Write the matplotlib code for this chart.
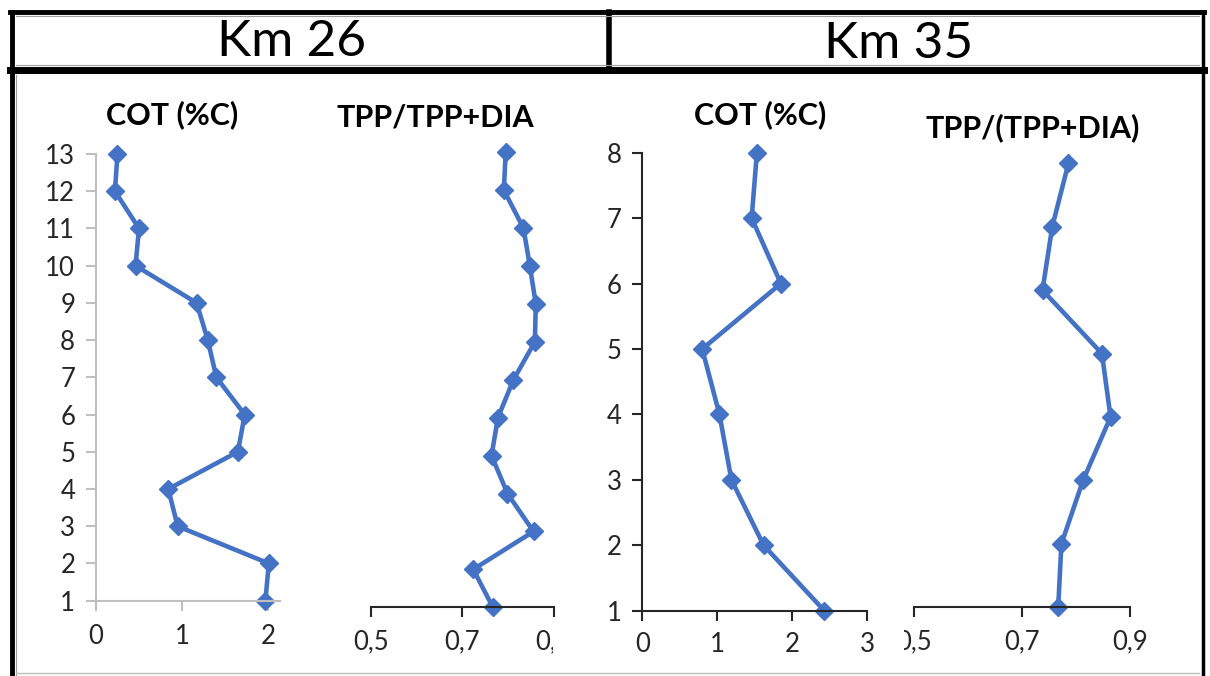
import matplotlib.pyplot as plt
from matplotlib.lines import Line2D
from matplotlib.transforms import Bbox, TransformedBbox

plt.rcParams['font.family'] = ['Lato', 'DejaVu Sans']

# Km 26 profile (level 13 at top down to 1)
depth26 = [13, 12, 11, 10, 9, 8, 7, 6, 5, 4, 3, 2, 1]
cot26 = [0.25, 0.22, 0.50, 0.46, 1.17, 1.30, 1.40, 1.73, 1.65, 0.84, 0.95, 2.01, 1.97]
tpp26 = [0.795, 0.791, 0.834, 0.848, 0.861, 0.859, 0.812, 0.778, 0.764, 0.799, 0.856, 0.724, 0.767]

# Km 35 profile (level 8 at top down to 1)
depth35 = [8, 7, 6, 5, 4, 3, 2, 1]
cot35 = [1.53, 1.46, 1.85, 0.80, 1.03, 1.19, 1.62, 2.43]
tpp35 = [0.786, 0.756, 0.738, 0.848, 0.864, 0.813, 0.773, 0.767]

ratio_ticks = [0.5, 0.7, 0.9]
ratio_labels = ['0,5', '0,7', '0,9']

blue = '#4472C4'
txt = '#262626'
W, H = 1210, 676
LS = 18.5  # tick label size

fig = plt.figure(figsize=(W / 100, H / 100), dpi=100)


def px_axes(x0, y0, x1, y1):
    # box given in pixels, y counted from the top
    return fig.add_axes([x0 / W, 1 - y1 / H, (x1 - x0) / W, (y1 - y0) / H])


def px_clip(x0, x1):
    return TransformedBbox(Bbox.from_extents(x0 / W, 0, x1 / W, 1), fig.transFigure)


def profile(ax, x, y):
    ax.plot(x, y, color=blue, lw=3.3, marker='D', ms=9, mec=blue, clip_on=False)


# --- Km 26, COT
ax1 = px_axes(96, 154, 280, 600.7)
profile(ax1, cot26, depth26)
ax1.set_xlim(0, 2.14)
ax1.set_ylim(1, 13)
ax1.set_xticks([0, 1, 2])
ax1.set_yticks(range(1, 14))
for s in ['top', 'right']:
    ax1.spines[s].set_visible(False)
for s in ['left', 'bottom']:
    ax1.spines[s].set_color('#BFBFBF')
    ax1.spines[s].set_linewidth(1.5)
ax1.tick_params(axis='both', colors='#BFBFBF', labelcolor=txt, labelsize=LS,
                length=7, width=1.5)
ax1.tick_params(axis='y', pad=8)
ax1.tick_params(axis='x', pad=10)

# --- Km 26, TPP/TPP+DIA
ax2 = px_axes(371, 152.3, 553.6, 607.3)
profile(ax2, tpp26, depth26)
ax2.set_xlim(0.5, 0.9)
ax2.set_ylim(1, 13)
ax2.set_xticks(ratio_ticks, ratio_labels)
ax2.set_yticks([])
for s in ['top', 'right', 'left']:
    ax2.spines[s].set_visible(False)
ax2.spines['bottom'].set_color('#262626')
ax2.spines['bottom'].set_linewidth(1.5)
ax2.tick_params(axis='x', colors='#262626', labelcolor=txt, labelsize=LS,
                length=7, width=1.5, pad=9)
for lab in ax2.get_xticklabels():
    lab.set_clip_on(True)
    lab.set_clip_box(px_clip(0, 553))

# --- Km 35, COT
ax3 = px_axes(642.3, 152.7, 867, 610.7)
profile(ax3, cot35, depth35)
ax3.set_xlim(0, 3)
ax3.set_ylim(1, 8)
ax3.set_xticks([0, 1, 2, 3])
ax3.set_yticks(range(1, 9))
for s in ['top', 'right']:
    ax3.spines[s].set_visible(False)
for s in ['left', 'bottom']:
    ax3.spines[s].set_color('#262626')
    ax3.spines[s].set_linewidth(1.5)
ax3.tick_params(axis='both', colors='#262626', labelcolor=txt, labelsize=LS,
                length=7, width=1.5)
ax3.tick_params(axis='y', pad=8)
ax3.tick_params(axis='x', pad=8)

# --- Km 35, TPP/(TPP+DIA)
ax4 = px_axes(914, 163.3, 1130, 607.3)
profile(ax4, tpp35, depth35)
ax4.set_xlim(0.5, 0.9)
ax4.set_ylim(1, 8)
ax4.set_xticks(ratio_ticks, ratio_labels)
ax4.set_yticks([])
for s in ['top', 'right', 'left']:
    ax4.spines[s].set_visible(False)
ax4.spines['bottom'].set_color('#262626')
ax4.spines['bottom'].set_linewidth(1.5)
ax4.tick_params(axis='x', colors='#262626', labelcolor=txt, labelsize=LS,
                length=7, width=1.5, pad=9)
for lab in ax4.get_xticklabels():
    lab.set_clip_on(True)
    lab.set_clip_box(px_clip(904, W))

# panel titles
titles = [(172, 115, 'COT (%C)'), (435, 118, 'TPP/TPP+DIA'),
          (760, 115, 'COT (%C)'), (1033, 128, 'TPP/(TPP+DIA)')]
for x, y, t in titles:
    fig.text(x / W, 1 - y / H, t, ha='center', va='center', fontsize=22,
             fontweight='bold', color='black')

# header boxes
fig.text(292 / W, 1 - 42 / H, 'Km 26', ha='center', va='center', fontsize=37)
fig.text(899 / W, 1 - 44 / H, 'Km 35', ha='center', va='center', fontsize=37)


def fline(x0, y0, x1, y1, **kw):
    fig.add_artist(Line2D([x0 / W, x1 / W], [1 - y0 / H, 1 - y1 / H], **kw))


fline(10, 12, 1204, 12, color='black', lw=3.5, solid_capstyle='projecting')
fline(10, 70, 1204, 70, color='black', lw=5, solid_capstyle='projecting')
fline(12, 12, 12, 676, color='black', lw=3.5)
fline(1203, 12, 1203, 676, color='black', lw=2.5)
fline(609, 12, 609, 70, color='black', lw=4)
fline(16, 16, 1199, 16, color='#9E9E9E', lw=0.8)
fline(16, 65, 1199, 65, color='#9E9E9E', lw=0.8)
fline(16, 75, 16, 676, color='#9E9E9E', lw=0.8)
fline(16, 673, 1199, 673, color='#BFBFBF', lw=1)

fig.savefig('out.png', dpi=100)
